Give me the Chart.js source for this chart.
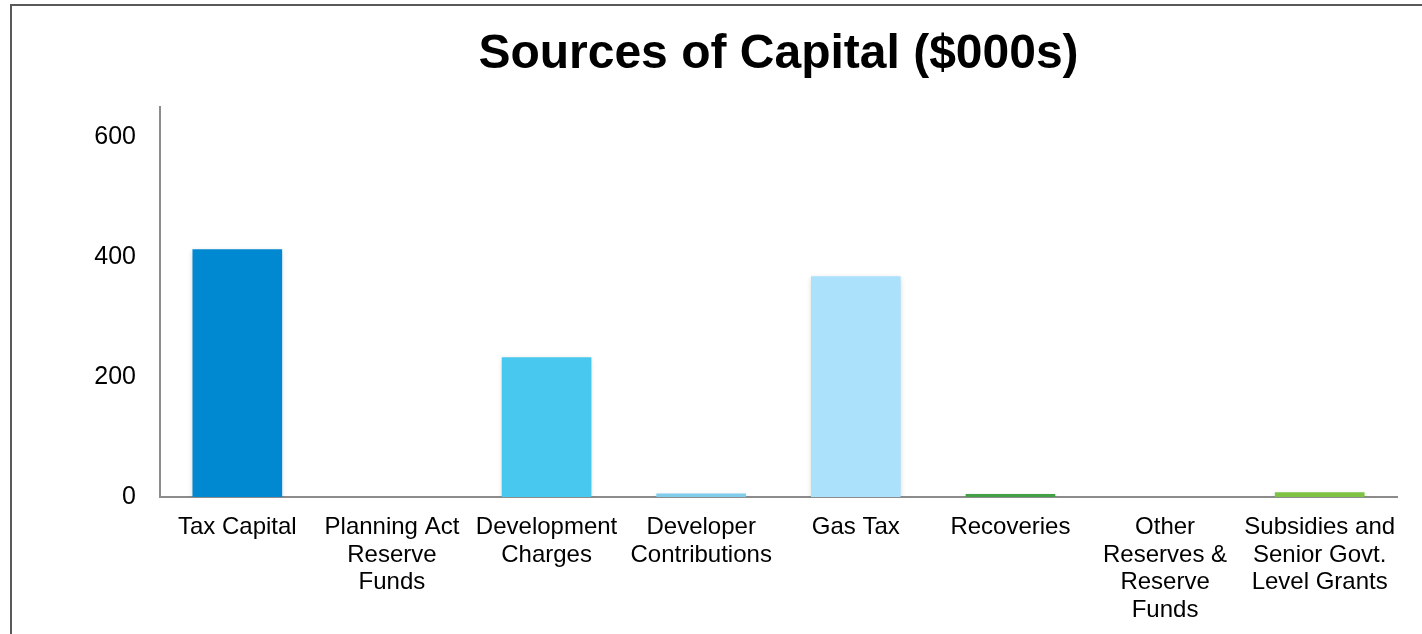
<!DOCTYPE html>
<html>
<head>
<meta charset="utf-8">
<script src="https://cdn.jsdelivr.net/npm/chart.js@4"></script>
<style>
  body { margin: 0; background: #fff; }
  #frame {
    position: absolute; left: 10px; top: 4px; width: 1412px; height: 630px;
    border-top: 2px solid #595959; border-left: 2px solid #595959;
    box-sizing: border-box;
  }
  #wrap { position: absolute; left: 0; top: 0; width: 1422px; height: 634px; }
</style>
</head>
<body>
<div id="frame"></div>
<div id="wrap"><canvas id="capChart"></canvas></div>
<script>
const categories = [
  "Tax Capital",
  ["Planning Act", "Reserve", "Funds"],
  ["Development", "Charges"],
  ["Developer", "Contributions"],
  "Gas Tax",
  "Recoveries",
  ["Other", "Reserves &", "Reserve", "Funds"],
  ["Subsidies and", "Senior Govt.", "Level Grants"],
];
const capitalValues = [413, 0, 233, 6, 368, 5, 0, 8];
const barColors = [
  "#0088D1", "#0088D1", "#48C8EE", "#7FCDEB",
  "#ABE1FA", "#43A047", "#43A047", "#7DC242",
];
const yTicks = [0, 200, 400, 600];

// soft drop shadow under the bars, like the original
const barShadow = {
  id: "barShadow",
  beforeDatasetsDraw(chart) {
    const ctx = chart.ctx;
    ctx.save();
    ctx.shadowColor = "rgba(0,0,0,0.18)";
    ctx.shadowBlur = 5;
    ctx.shadowOffsetX = 0;
    ctx.shadowOffsetY = 2;
  },
  afterDatasetsDraw(chart) {
    chart.ctx.restore();
  },
};

const ctx = document.getElementById("capChart").getContext("2d");
new Chart(ctx, {
  type: "bar",
  data: {
    labels: categories,
    datasets: [
      {
        label: "Sources of Capital",
        data: capitalValues,
        backgroundColor: barColors,
        borderWidth: 0,
        barPercentage: 0.58,
        categoryPercentage: 1,
      },
    ],
  },
  plugins: [barShadow],
  options: {
    responsive: true,
    maintainAspectRatio: false,
    animation: false,
    layout: { padding: { left: 0, right: 25, top: 0, bottom: 0 } },
    scales: {
      y: {
        min: 0,
        max: 651,
        afterBuildTicks: (scale) => {
          scale.ticks = yTicks.map((v) => ({ value: v }));
        },
        afterFit: (scale) => {
          scale.width = 160;
        },
        grid: { display: false, drawTicks: false },
        border: { display: true, color: "#8c8c8c", width: 2 },
        ticks: {
          padding: 24,
          color: "#000",
          font: { family: "Arial, 'Liberation Sans'", size: 25 },
        },
      },
      x: {
        afterFit: (scale) => {
          scale.height = 137;
        },
        grid: { display: false, drawTicks: false },
        border: { display: true, color: "#8c8c8c", width: 2 },
        ticks: {
          padding: 17,
          maxRotation: 0,
          autoSkip: false,
          color: "#000",
          font: { family: "Arial, 'Liberation Sans'", size: 24, lineHeight: 1.146 },
        },
      },
    },
    plugins: {
      legend: { display: false },
      tooltip: { enabled: false },
      title: {
        display: true,
        fullSize: false,
        text: "Sources of Capital ($000s)",
        color: "#000",
        font: { family: "Arial, 'Liberation Sans'", size: 48, weight: "bold", lineHeight: 1.2 },
        padding: { top: 26, bottom: 23 },
      },
    },
  },
});
</script>
</body>
</html>
